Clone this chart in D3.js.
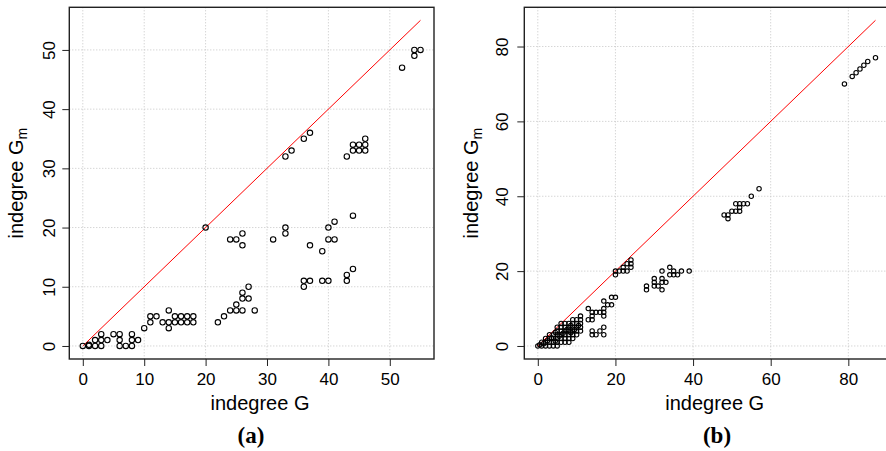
<!DOCTYPE html>
<html>
<head>
<meta charset="utf-8">
<script src="https://cdn.jsdelivr.net/npm/d3@7/dist/d3.min.js"></script>
<style>
  html, body { margin: 0; padding: 0; background: #fff; }
  svg { display: block; }
  text { font-family: "Liberation Sans", Arial, Helvetica, sans-serif; fill: #000; }
</style>
</head>
<body>
<svg id="chart" width="886" height="451"></svg>
<script>
// Panel (a): indegree in G vs indegree in G_m
const aPoints = [
  [0,0],[1,0],[1,0.2],[2,1],[2,0],[3,2],[3,1],[3,0],[4,1],[5,2],[6,2],[6,1],[6,0],[7,0],[8,2],[8,1],[8,0],[9,1],
  [10,3],[11,4],[11,5],[12,5],[13,4],[14,6],[14,4],[14,3],[15,5],[15,4],[16,5],[16,4],[17,5],[17,4],[18,5],[18,4],
  [20,20],
  [22,4],[23,5],[24,6],[25,7],[25,6],[26,6],[26,8],[26,9],[27,8],[27,10],[28,6],
  [24,18],[25,18],[26,19],[26,17],[31,18],[33,20],[33,19],
  [33,32],[34,33],[36,35],[37,36],
  [37,17],[39,16],[40,18],[40,20],[41,21],[41,18],[44,22],
  [36,10],[36,11],[37,11],[39,11],[40,11],[43,11],[43,12],[44,13],
  [43,32],[44,34],[44,33],[45,33],[45,34],[46,35],[46,34],[46,33],
  [52,47],[54,49],[54,50],[55,50]
];
const aTicks = [0, 10, 20, 30, 40, 50];
const aMax = 55;

// Panel (b)
const bPoints = [
  // dense low-degree block
  [0,0],[0.5,0.3],[1,0],[1,1],[1.5,0.6],[2,0],[2,1],[2,2],[2.5,1.4],[3,0],[3,1],[3,2],[3,3],[3.5,2.2],
  [4,0],[4,1],[4,2],[4,3],[4.5,1.3],[4.5,3.6],
  [5,0],[5,1],[5,2],[5,3],[5,4],[5,5],[5.5,2.6],[6,1],[6,2],[6,3],[6,4],[6,5],[6,6],[6.5,3.4],
  [7,1],[7,2],[7,3],[7,4],[7,5],[7,6],[7.5,4.4],[8,1],[8,2],[8,3],[8,4],[8,5],[8,6],[8.5,3.5],[8.5,5.5],
  [9,2],[9,3],[9,4],[9,5],[9,6],[9,7],[9.5,4.4],[10,3],[10,4],[10,5],[10,6],[10,7],[10.5,5.5],
  [11,4],[11,5],[11,6],[11,7],[11,8],
  // 13..20
  [13,10],[13,7],[14,7],[14,8],[14,9],[15,9],[16,9],[17,9],[17,8],[17,10],[17,12],
  [18,11],[19,11],[19,13],[20,13],[14,4],[14,3],[15,3],[16,4],[17,5],[17,3],
  // 20..24
  [20,20],[20,19],[21,20],[22,21],[22,20],[23,20],[23,22],[24,21],[24,23],[24,22],
  // 28..39
  [28,16],[28,15],[30,18],[30,17],[30,16],[31,16],[32,15],[32,20],[32,17],[32,18],[33,17],
  [34,21],[34,19],[35,20],[35,19],[36,19],[37,20],[39,20],
  // 48..57
  [48,35],[49,34],[49,35],[50,36],[51,36],[51,38],[52,38],[52,37],[52,36],[53,38],[54,38],[55,40],[57,42],
  // 79..87
  [79,70],[81,72],[82,73],[83,74],[84,75],[85,76],[87,77]
];
const bTicks = [0, 20, 40, 60, 80];
const bMax = 87;

const svg = d3.select("#chart");

function drawPanel(opt) {
  const { left, top, width, height, points, ticks, max, r, tag, tagX, titleX, yLabelGap } = opt;
  const pad = max * 0.04;
  const x = d3.scaleLinear().domain([-pad, max + pad]).range([0, width]);
  const y = d3.scaleLinear().domain([-pad, max + pad]).range([height, 0]);

  const g = svg.append("g").attr("transform", `translate(${left},${top})`);

  // dotted grid
  const grid = g.append("g").attr("stroke", "#c4c4c4").attr("stroke-width", 1)
    .attr("stroke-dasharray", "1,2").attr("fill", "none");
  grid.selectAll("line.v").data(ticks).join("line")
    .attr("x1", d => x(d)).attr("x2", d => x(d)).attr("y1", 0).attr("y2", height);
  grid.selectAll("line.h").data(ticks).join("line")
    .attr("y1", d => y(d)).attr("y2", d => y(d)).attr("x1", 0).attr("x2", width);

  // identity line
  g.append("line")
    .attr("x1", x(0)).attr("y1", y(0)).attr("x2", x(max)).attr("y2", y(max))
    .attr("stroke", "#ff0000").attr("stroke-width", 1);

  // points
  g.append("g").selectAll("circle").data(points).join("circle")
    .attr("cx", d => x(d[0])).attr("cy", d => y(d[1])).attr("r", r)
    .attr("fill", "none").attr("stroke", "#000").attr("stroke-width", 1.1);

  // axes
  const xAxis = g.append("g").attr("transform", `translate(0,${height})`)
    .call(d3.axisBottom(x).tickValues(ticks).tickSize(7).tickSizeOuter(0).tickFormat(d3.format("d")));
  xAxis.select(".domain").remove();
  xAxis.selectAll("line").attr("stroke", "#222");
  xAxis.selectAll("text").attr("y", 26).attr("dy", 0)
    .style("font-size", "17px").style("font-family", "Liberation Sans, Arial, sans-serif");

  const yAxis = g.append("g")
    .call(d3.axisLeft(y).tickValues(ticks).tickSize(7).tickSizeOuter(0).tickFormat(d3.format("d")));
  yAxis.select(".domain").remove();
  yAxis.selectAll("line").attr("stroke", "#222");
  yAxis.selectAll("text")
    .attr("transform", "rotate(-90)")
    .attr("x", 0).attr("y", -yLabelGap).attr("dy", 0)
    .attr("text-anchor", "middle")
    .style("font-size", "17px").style("font-family", "Liberation Sans, Arial, sans-serif");

  // frame
  g.append("rect").attr("x", 0).attr("y", 0).attr("width", width).attr("height", height)
    .attr("fill", "none").attr("stroke", "#222").attr("stroke-width", 1.4);

  // x title
  svg.append("text")
    .attr("x", titleX).attr("y", 410)
    .attr("text-anchor", "middle").style("font-size", "20px")
    .text("indegree G");

  // y title with subscript
  const yt = svg.append("text")
    .attr("transform", `translate(${left - 46.5},${top + height / 2}) rotate(-90)`)
    .attr("text-anchor", "middle").style("font-size", "20px");
  yt.append("tspan").text("indegree G");
  yt.append("tspan").attr("dy", 4).style("font-size", "14px").text("m");

  // panel tag
  svg.append("text")
    .attr("x", tagX).attr("y", 443)
    .attr("text-anchor", "middle")
    .style("font-family", "Liberation Serif, Times New Roman, serif")
    .style("font-weight", "bold").style("font-size", "23px")
    .text(tag);
}

drawPanel({ left: 69.3, top: 7.3, width: 364.7, height: 351.7, points: aPoints, ticks: aTicks,
  max: aMax, r: 2.7, tag: "(a)", tagX: 251, titleX: 260, yLabelGap: 14.3 });
drawPanel({ left: 524.3, top: 7.3, width: 364.7, height: 351.7, points: bPoints, ticks: bTicks,
  max: bMax, r: 2.2, tag: "(b)", tagX: 717, titleX: 714.7, yLabelGap: 16.3 });
</script>
</body>
</html>
